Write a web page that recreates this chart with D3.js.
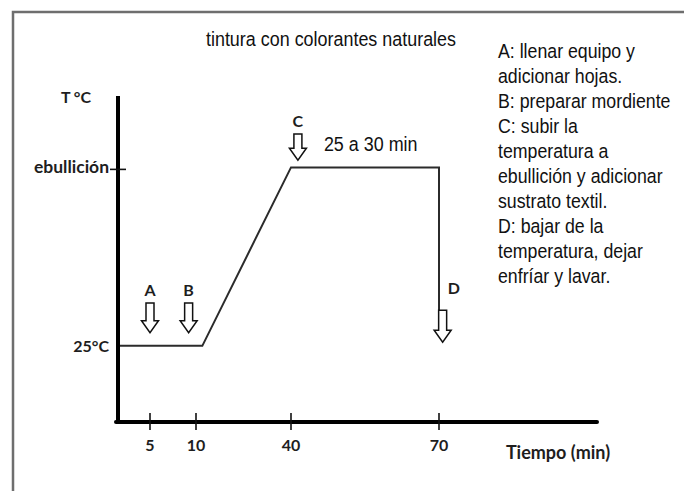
<!DOCTYPE html>
<html>
<head>
<meta charset="utf-8">
<script src="https://cdn.jsdelivr.net/npm/d3@7"></script>
<style>
  html, body { margin: 0; padding: 0; background: #fff; }
  svg { display: block; }
</style>
</head>
<body>
<div id="chart"></div>
<script>
// profile of the dyeing process (time in min, temperature in °C, 100 = boiling)
const profileTimes = [0, 12, 40, 70, 70];
const profileTemps = [25, 25, 100, 100, 40];

// axis ticks
const xTickValues = [5, 10, 40, 70];
const yTickValues = [25, 100];
const yTickLabels = ["25°C", "ebullición"];

// step markers (arrows) : key, time, temperature at top and bottom of arrow
const stepKeys = ["A", "B", "C", "D"];
const stepTimes = [5, 9.2, 41.4, 70.3];
const stepTop = [43, 43, 114, 40];
const stepBottom = [30.5, 30.5, 103, 26.5];

const legendLines = [
    "A: llenar equipo y",
    "adicionar hojas.",
    "B: preparar mordiente",
    "C: subir la",
    "temperatura a",
    "ebullición y adicionar",
    "sustrato textil.",
    "D: bajar de la",
    "temperatura, dejar",
    "enfríar y lavar."
];

const width = 684, height = 491;
const sans = "'Liberation Sans', Arial, sans-serif";
const labelFont = "Lato, 'Open Sans', sans-serif";

const svg = d3.select("#chart")
    .append("svg")
    .attr("width", width)
    .attr("height", height);

// condensed text: regular sans squeezed horizontally
function narrowText(g, x, y, str, size, squeeze) {
    return g.append("text")
        .attr("transform", `translate(${x},${y}) scale(${squeeze},1)`)
        .attr("font-family", sans)
        .attr("font-size", size)
        .attr("fill", "#111")
        .text(str);
}

// outer frame
svg.append("path")
    .attr("d", `M13,${height} V12 H${width}`)
    .attr("fill", "none")
    .attr("stroke", "#6e6e6e")
    .attr("stroke-width", 2.5);

// time axis is not proportional in the original, so use a piecewise scale
const x = d3.scaleLinear()
    .domain([0, 5, 10, 40, 70, 83])
    .range([118, 150, 196, 291, 439, 597]);

const y = d3.scaleLinear()
    .domain([-7, 130])
    .range([422, 96]);

// title
narrowText(svg, 331, 46, "tintura con colorantes naturales", 19.5, 0.92)
    .attr("text-anchor", "middle");

// profile line
const line = d3.line()
    .x(d => x(d[0]))
    .y(d => y(d[1]));

svg.append("path")
    .datum(d3.zip(profileTimes, profileTemps))
    .attr("d", line)
    .attr("fill", "none")
    .attr("stroke", "#2b2b2b")
    .attr("stroke-width", 2)
    .attr("stroke-linejoin", "miter");

// axes
svg.append("line")
    .attr("x1", x(0)).attr("x2", x(0))
    .attr("y1", y(130)).attr("y2", y(-7) + 2)
    .attr("stroke", "#000").attr("stroke-width", 4);

svg.append("line")
    .attr("x1", x(0) - 2).attr("x2", x(83))
    .attr("y1", y(-7)).attr("y2", y(-7))
    .attr("stroke", "#000").attr("stroke-width", 4)
    .attr("stroke-linecap", "round");

// x ticks
const xt = svg.append("g");
xt.selectAll("line")
    .data(xTickValues)
    .join("line")
    .attr("x1", d => x(d)).attr("x2", d => x(d))
    .attr("y1", y(-7) - 9).attr("y2", y(-7) + 8)
    .attr("stroke", "#111").attr("stroke-width", 1.6);

xt.selectAll("text")
    .data(xTickValues)
    .join("text")
    .attr("x", d => x(d))
    .attr("y", y(-7) + 29)
    .attr("text-anchor", "middle")
    .attr("font-family", labelFont)
    .attr("font-weight", 700)
    .attr("font-size", 16)
    .attr("fill", "#1e1e1e")
    .text(d => d);

// y labels
svg.selectAll(".ylab")
    .data(yTickValues)
    .join("text")
    .attr("class", "ylab")
    .attr("x", x(0) - 9)
    .attr("y", d => y(d) + 6)
    .attr("text-anchor", "end")
    .attr("font-family", labelFont)
    .attr("font-weight", 700)
    .attr("font-size", (d, i) => i === 1 ? 17.5 : 16)
    .attr("fill", "#1e1e1e")
    .text((d, i) => yTickLabels[i]);

// tick at boiling point
svg.append("line")
    .attr("x1", x(0) - 8).attr("x2", x(0) + 8)
    .attr("y1", y(100) + 2).attr("y2", y(100) + 2)
    .attr("stroke", "#111").attr("stroke-width", 1.6);

// axis titles
svg.append("text")
    .attr("x", 76).attr("y", 103)
    .attr("text-anchor", "middle")
    .attr("font-family", labelFont)
    .attr("font-weight", 700)
    .attr("font-size", 16)
    .attr("fill", "#1e1e1e")
    .text("T °C");

svg.append("text")
    .attr("x", 558).attr("y", 459)
    .attr("text-anchor", "middle")
    .attr("font-family", labelFont)
    .attr("font-weight", 700)
    .attr("font-size", 18)
    .attr("fill", "#1e1e1e")
    .text("Tiempo (min)");

// hollow block arrows
function arrowPath(cx, top, bottom) {
    const sw = 4, hw = 8.5, hl = 12;
    const neck = bottom - hl;
    return `M${cx - sw},${top} H${cx + sw} V${neck} H${cx + hw} L${cx},${bottom} L${cx - hw},${neck} H${cx - sw} Z`;
}

const steps = svg.append("g")
    .selectAll("g")
    .data(stepKeys)
    .join("g");

steps.append("path")
    .attr("d", (d, i) => arrowPath(x(stepTimes[i]), y(stepTop[i]), y(stepBottom[i])))
    .attr("fill", "#fff")
    .attr("stroke", "#111")
    .attr("stroke-width", 1.5)
    .attr("stroke-linejoin", "miter");

steps.append("text")
    .attr("x", (d, i) => d === "D" ? x(stepTimes[i]) + 5 : x(stepTimes[i]))
    .attr("y", (d, i) => d === "D" ? y(stepTop[i]) - 16 : y(stepTop[i]) - 7)
    .attr("text-anchor", (d) => d === "D" ? "start" : "middle")
    .attr("font-family", labelFont)
    .attr("font-weight", 700)
    .attr("font-size", 16)
    .attr("fill", "#1e1e1e")
    .text(d => d);

// duration note
narrowText(svg, x(41.4) + 26, y(100) - 16, "25 a 30 min", 19.5, 0.92);

// legend
const legend = svg.append("g");
legendLines.forEach((d, i) => narrowText(legend, 498, 58 + i * 25, d, 19.5, 0.91));
</script>
</body>
</html>
